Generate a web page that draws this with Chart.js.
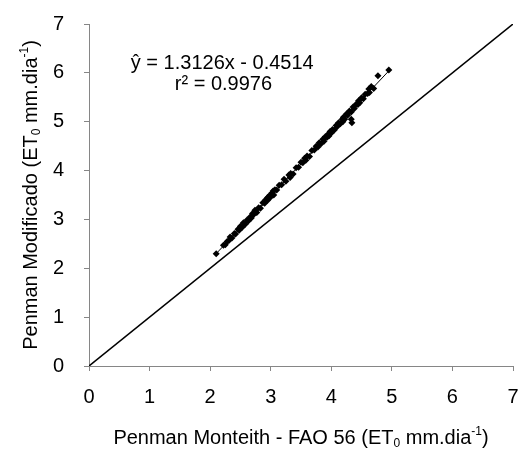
<!DOCTYPE html>
<html>
<head>
<meta charset="utf-8">
<script src="https://cdn.jsdelivr.net/npm/chart.js@4"></script>
<style>
  html, body { margin: 0; padding: 0; background: #fff; }
  #wrap { width: 521px; height: 451px; }
</style>
</head>
<body>
<div id="wrap"><canvas id="chart" width="521" height="451"></canvas></div>
<script>
// Observed points (Penman Monteith FAO 56 vs Penman Modificado)
const obsX = [2.10, 2.22, 2.25, 2.28, 2.31, 2.33, 2.36, 2.40, 2.42, 2.46, 2.48, 2.50, 2.53, 2.55, 2.58,
  2.61, 2.63, 2.66, 2.68, 2.70, 2.72, 2.74, 2.77, 2.80, 2.83, 2.87, 2.90, 2.92, 2.95, 2.95, 2.98,
  3.00, 3.02, 3.04, 3.05, 3.07, 3.10, 3.14, 3.18, 3.22, 3.25, 3.30, 3.32, 3.33, 3.37, 3.42, 3.46,
  3.50, 3.53, 3.56, 3.58, 3.60, 3.64, 3.68, 3.72, 3.75, 3.78, 3.80, 3.83, 3.86, 3.88, 3.90, 3.93,
  3.95, 3.96, 3.98, 4.00, 4.02, 4.05, 4.08, 4.10, 4.12, 4.15, 4.18, 4.19, 4.20, 4.22, 4.25, 4.27,
  4.30, 4.33, 4.33, 4.34, 4.36, 4.38, 4.41, 4.44, 4.45, 4.47, 4.50, 4.53, 4.56, 4.60, 4.62, 4.63,
  4.66, 4.70, 4.77, 4.95];
const obsY = [2.30, 2.47, 2.48, 2.55, 2.57, 2.64, 2.62, 2.71, 2.70, 2.80, 2.78, 2.86, 2.84, 2.93, 2.90,
  2.99, 2.97, 3.05, 3.03, 3.12, 3.10, 3.19, 3.14, 3.24, 3.23, 3.34, 3.33, 3.41, 3.45, 3.39, 3.49,
  3.46, 3.54, 3.58, 3.50, 3.61, 3.60, 3.70, 3.71, 3.82, 3.78, 3.91, 3.86, 3.94, 3.93, 4.06, 4.07,
  4.17, 4.16, 4.25, 4.21, 4.30, 4.29, 4.41, 4.42, 4.50, 4.48, 4.57, 4.55, 4.64, 4.60, 4.69, 4.68,
  4.75, 4.71, 4.80, 4.77, 4.84, 4.83, 4.92, 4.90, 4.98, 4.96, 5.05, 5.00, 5.09, 5.05, 5.16, 5.13,
  5.22, 5.20, 5.05, 4.98, 5.30, 5.27, 5.36, 5.35, 5.43, 5.39, 5.49, 5.47, 5.56, 5.58, 5.67, 5.60,
  5.72, 5.68, 5.94, 6.06];

// Trend line ends and the 1:1 line
const trendX = [2.10, 4.95];
const trendY = [2.30, 6.04];
const unitX = [0, 7];
const unitY = [0, 7];

const axisTicks = [0, 1, 2, 3, 4, 5, 6, 7];
const eqText = 'ŷ = 1.3126x - 0.4514';
const r2Text = 'r² = 0.9976';

// Axis titles as rich text: sub = subscript, sup = superscript
const xTitle = [{ t: 'Penman Monteith - FAO 56 (ET' }, { t: '0', sub: true }, { t: ' mm.dia' }, { t: '-1', sup: true }, { t: ')' }];
const yTitle = [{ t: 'Penman Modificado (ET' }, { t: '0', sub: true }, { t: ' mm.dia' }, { t: '-1', sup: true }, { t: ')' }];

const FAMILY = '"Liberation Sans", Arial, sans-serif';
const SIZE = 20;

const toPoints = (xs, ys) => xs.map((x, i) => ({ x: x, y: ys[i] }));

function segFont(seg) {
  return (seg.sub || seg.sup ? Math.round(SIZE * 0.62) : SIZE) + 'px ' + FAMILY;
}

// draws rich text centered on (0,0) of the current transform
function drawRich(ctx, segs) {
  let total = 0;
  segs.forEach(s => { ctx.font = segFont(s); total += ctx.measureText(s.t).width; });
  let x = -total / 2;
  segs.forEach(s => {
    ctx.font = segFont(s);
    let dy = 0;
    if (s.sub) dy = SIZE * 0.3;
    if (s.sup) dy = -SIZE * 0.3;
    ctx.fillText(s.t, x, dy);
    x += ctx.measureText(s.t).width;
  });
}

const labelsPlugin = {
  id: 'labels',
  afterDraw(chart) {
    const { ctx, scales, chartArea } = chart;
    ctx.save();
    ctx.fillStyle = '#000';
    ctx.textBaseline = 'middle';

    // equation
    ctx.font = SIZE + 'px ' + FAMILY;
    ctx.textAlign = 'center';
    ctx.fillText(eqText, scales.x.getPixelForValue(2.2), scales.y.getPixelForValue(6.2));
    ctx.fillText(r2Text, scales.x.getPixelForValue(2.22), scales.y.getPixelForValue(5.76));
    ctx.textAlign = 'left';

    // x title
    ctx.save();
    ctx.translate((chartArea.left + chartArea.right) / 2, 438);
    drawRich(ctx, xTitle);
    ctx.restore();

    // y title
    ctx.save();
    ctx.translate(31, (chartArea.top + chartArea.bottom) / 2);
    ctx.rotate(-Math.PI / 2);
    drawRich(ctx, yTitle);
    ctx.restore();

    ctx.restore();
  }
};

const font = { family: FAMILY, size: SIZE };

new Chart(document.getElementById('chart'), {
  type: 'scatter',
  data: {
    datasets: [
      {
        label: 'obs',
        data: toPoints(obsX, obsY),
        pointStyle: 'rectRot',
        pointRadius: 3.5,
        backgroundColor: '#000',
        borderColor: '#000',
        borderWidth: 0
      },
      {
        label: 'trend',
        type: 'line',
        data: toPoints(trendX, trendY),
        borderColor: '#000',
        borderWidth: 1,
        pointRadius: 0
      },
      {
        label: '1:1',
        type: 'line',
        data: toPoints(unitX, unitY),
        borderColor: '#000',
        borderWidth: 1.5,
        pointRadius: 0
      }
    ]
  },
  options: {
    responsive: false,
    animation: false,
    layout: { padding: { top: 24, right: 8, left: 0, bottom: 0 } },
    plugins: {
      legend: { display: false },
      tooltip: { enabled: false }
    },
    scales: {
      x: {
        type: 'linear',
        min: 0,
        max: 7,
        afterBuildTicks: (s) => { s.ticks = axisTicks.map(v => ({ value: v })); },
        afterFit: (s) => { s.height = 85; s.paddingLeft = 0; s.paddingRight = 0; },
        border: { color: '#868686', width: 1 },
        grid: { drawOnChartArea: false, drawTicks: true, tickLength: 5, color: '#868686' },
        ticks: { color: '#000', font: font, padding: 14, maxRotation: 0 }
      },
      y: {
        type: 'linear',
        min: 0,
        max: 7,
        afterBuildTicks: (s) => { s.ticks = axisTicks.map(v => ({ value: v })); },
        afterFit: (s) => { s.width = 89; s.paddingTop = 0; s.paddingBottom = 0; },
        border: { color: '#868686', width: 1 },
        grid: { drawOnChartArea: false, drawTicks: true, tickLength: 5, color: '#868686' },
        ticks: { color: '#000', font: font, padding: 20 }
      }
    }
  },
  plugins: [labelsPlugin]
});
</script>
</body>
</html>
